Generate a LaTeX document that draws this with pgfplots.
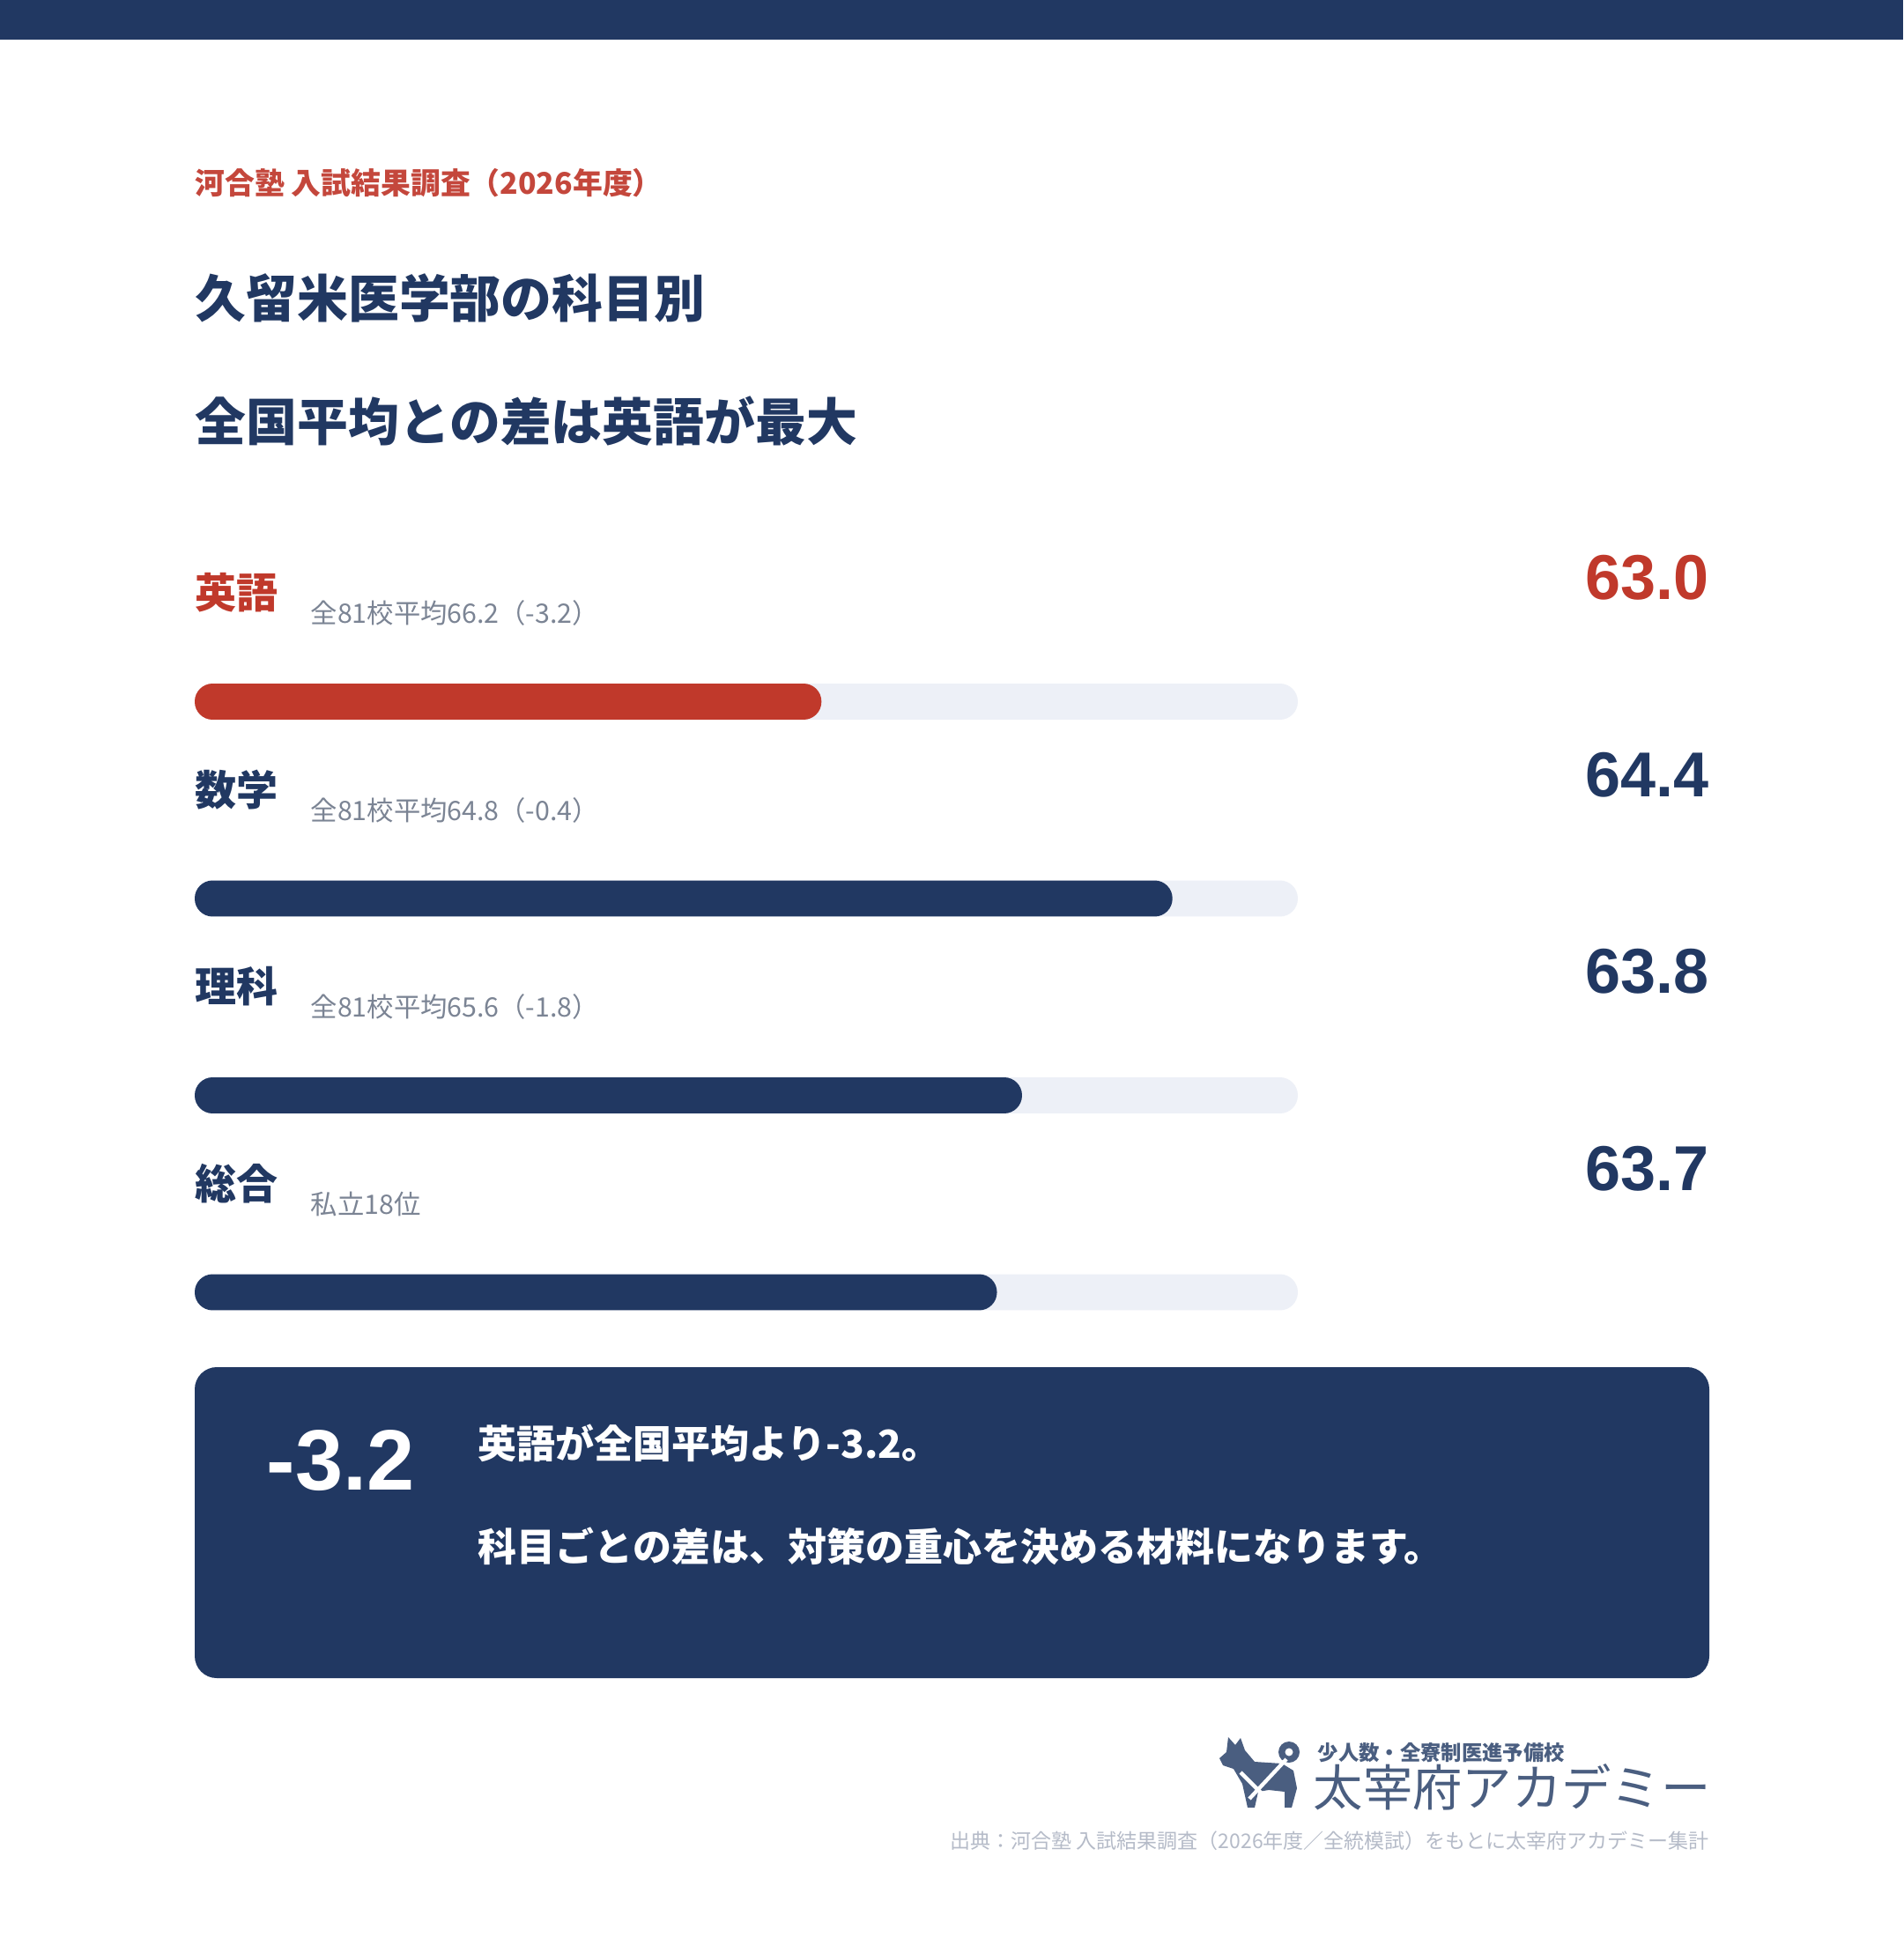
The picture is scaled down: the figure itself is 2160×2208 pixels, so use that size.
\documentclass[border=0pt]{standalone}
\usepackage{fontspec}
\usepackage{pgfplots}
\pgfplotsset{compat=1.18}
\setmainfont{Noto Sans CJK JP}
\newfontfamily\numfont{Liberation Sans}
\definecolor{navy}{HTML}{213862}
\definecolor{accent}{HTML}{C0392B}
\definecolor{subred}{HTML}{C4473C}
\definecolor{track}{HTML}{EDF0F7}
\definecolor{subgray}{HTML}{7B8494}
\definecolor{footgray}{HTML}{B5BBC8}
\definecolor{logo}{HTML}{4A5E80}
\newcommand{\fs}[1]{\fontsize{#1}{#1}\selectfont}
\begin{document}
\begin{tikzpicture}
\begin{scope}[x=0.3pt,y=-0.3pt]
\useasboundingbox (0,0) rectangle (2160,2208);
\fill[white] (0,0) rectangle (2160,2208);
\fill[navy] (0,0) rectangle (2160,45);
% header
\node[anchor=west, inner sep=0, text=subred, font=\bfseries\fs{10.15pt}] at (221,208) {河合塾 入試結果調査（2026年度）};
\node[anchor=west, inner sep=0, text=navy, font=\bfseries\fs{17.35pt}] at (221,338) {久留米医学部の科目別};
\node[anchor=west, inner sep=0, text=navy, font=\bfseries\fs{17.35pt}] at (221,478) {全国平均との差は英語が最大};
% row labels
\node[anchor=west, inner sep=0, text=accent, font=\bfseries\fs{14.1pt}] at (221,673) {英語};
\node[anchor=west, inner sep=0, text=subgray, font=\fs{9.1pt}] at (352,696) {全81校平均66.2（-3.2）};
\node[anchor=east, inner sep=0, text=accent, font=\numfont\bfseries\fs{21.6pt}] at (1940,656) {63.0};
\node[anchor=west, inner sep=0, text=navy, font=\bfseries\fs{14.1pt}] at (221,896.5) {数学};
\node[anchor=west, inner sep=0, text=subgray, font=\fs{9.1pt}] at (352,919.5) {全81校平均64.8（-0.4）};
\node[anchor=east, inner sep=0, text=navy, font=\numfont\bfseries\fs{21.6pt}] at (1940,879.5) {64.4};
\node[anchor=west, inner sep=0, text=navy, font=\bfseries\fs{14.1pt}] at (221,1120) {理科};
\node[anchor=west, inner sep=0, text=subgray, font=\fs{9.1pt}] at (352,1143) {全81校平均65.6（-1.8）};
\node[anchor=east, inner sep=0, text=navy, font=\numfont\bfseries\fs{21.6pt}] at (1940,1103) {63.8};
\node[anchor=west, inner sep=0, text=navy, font=\bfseries\fs{14.1pt}] at (221,1343.5) {総合};
\node[anchor=west, inner sep=0, text=subgray, font=\fs{9.1pt}] at (352,1366.5) {私立18位};
\node[anchor=east, inner sep=0, text=navy, font=\numfont\bfseries\fs{21.6pt}] at (1940,1326.5) {63.7};
% callout box
\fill[navy, rounded corners=7.5pt] (221,1552) rectangle (1940,1905);
\node[anchor=west, inner sep=0, text=white, font=\numfont\bfseries\fs{29.2pt}] at (302,1658) {-3.2};
\node[anchor=west, inner sep=0, text=white, font=\bfseries\fs{13.2pt}] at (542,1638) {英語が全国平均より-3.2。};
\node[anchor=west, inner sep=0, text=white, font=\bfseries\fs{13.2pt}] at (542,1755) {科目ごとの差は、対策の重心を決める材料になります。};
% logo
\fill[logo] (1384,1996) -- (1392,1989) -- (1394,1972) -- (1402,1981) -- (1408,1973) -- (1413,1987)
  -- (1424,2000) -- (1455,2002) -- (1468,2010) -- (1472,2030) -- (1466,2052) -- (1458,2052)
  -- (1458,2034) -- (1440,2032) -- (1428,2034) -- (1424,2052) -- (1416,2052) -- (1410,2025)
  -- (1400,2008) -- (1388,2004) -- cycle;
\fill[logo] (1463,1989) circle (12);
\fill[white] (1463,1989) circle (4.5);
\draw[white, line width=1.3pt] (1418,2042) -- (1460,1997);
\draw[white, line width=1.3pt] (1408,2012) -- (1436,2040);
\node[anchor=west, inner sep=0, text=logo, font=\bfseries\fs{7.0pt}] at (1495,1990) {少人数・全寮制医進予備校};
\node[anchor=west, inner sep=0, text=logo, font=\fs{16.9pt}] at (1490,2029) {太宰府アカデミー};
% footer
\node[anchor=east, inner sep=0, text=footgray, font=\fs{6.9pt}] at (1940,2090) {出典：河合塾 入試結果調査（2026年度／全統模試）をもとに太宰府アカデミー集計};
\end{scope}
\begin{axis}[at={(66.3pt,-205.425pt)}, anchor=north west, scale only axis,
  width=375.6pt, height=268.2pt, xmin=60.5, xmax=64.9, ymin=-0.5, ymax=3.5,
  y dir=reverse, hide axis, clip=false]
% tracks (full scale 60.5 -- 64.9)
\addplot[fill=track, draw=none, rounded corners=6.1pt] coordinates {(60.5,-0.0917) (64.9,-0.0917) (64.9,0.0917) (60.5,0.0917)} -- cycle;
\addplot[fill=track, draw=none, rounded corners=6.1pt] coordinates {(60.5,0.9083) (64.9,0.9083) (64.9,1.0917) (60.5,1.0917)} -- cycle;
\addplot[fill=track, draw=none, rounded corners=6.1pt] coordinates {(60.5,1.9083) (64.9,1.9083) (64.9,2.0917) (60.5,2.0917)} -- cycle;
\addplot[fill=track, draw=none, rounded corners=6.1pt] coordinates {(60.5,2.9083) (64.9,2.9083) (64.9,3.0917) (60.5,3.0917)} -- cycle;
% values
\addplot[fill=accent, draw=none, rounded corners=6.1pt] coordinates {(60.5,-0.0917) (63.0,-0.0917) (63.0,0.0917) (60.5,0.0917)} -- cycle;
\addplot[fill=navy, draw=none, rounded corners=6.1pt] coordinates {(60.5,0.9083) (64.4,0.9083) (64.4,1.0917) (60.5,1.0917)} -- cycle;
\addplot[fill=navy, draw=none, rounded corners=6.1pt] coordinates {(60.5,1.9083) (63.8,1.9083) (63.8,2.0917) (60.5,2.0917)} -- cycle;
\addplot[fill=navy, draw=none, rounded corners=6.1pt] coordinates {(60.5,2.9083) (63.7,2.9083) (63.7,3.0917) (60.5,3.0917)} -- cycle;
\end{axis}
\end{tikzpicture}
\end{document}
